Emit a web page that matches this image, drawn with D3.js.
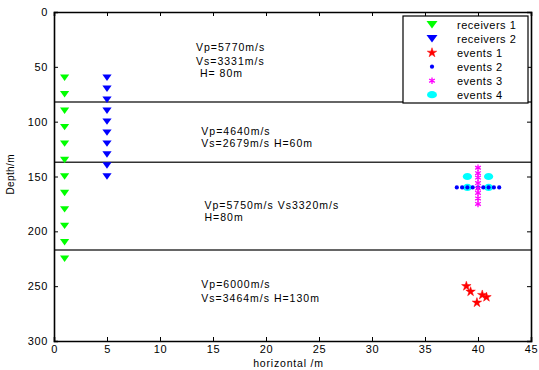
<!DOCTYPE html>
<html>
<head>
<meta charset="utf-8">
<script src="https://cdn.jsdelivr.net/npm/d3@7"></script>
<style>
  body { margin: 0; background: #fff; }
  text { font-family: "Liberation Sans", Arial, sans-serif; }
</style>
</head>
<body>
<svg id="chart" width="539" height="370"></svg>
<script>
// receivers: x position and depths
const rec1X = 1;
const rec1Depth = [60, 75, 90, 105, 120, 135, 150, 165, 180, 195, 210, 225];
const rec2X = 5;
const rec2Depth = [60, 70, 80, 90, 100, 110, 120, 130, 140, 150];

// events
const ev1 = [[38.9, 250], [39.3, 255], [40.4, 258], [40.8, 260], [39.9, 265]];
const ev2X = [38, 38.5, 39, 39.5, 40, 40.5, 41, 41.5, 42];
const ev2Depth = 160;
const ev3X = 40;
const ev3Depth = [142, 147, 151, 156, 161, 165, 170, 175];
const ev4 = [[39, 150], [41, 150], [39, 160], [41, 160]];

// layer boundaries (depth)
const boundaries = [82, 137, 217];

// layer annotations: [x, depth, text]
const notes = [
  [13.4, 36, 'Vp=5770m/s'],
  [13.4, 48, 'Vs=3331m/s'],
  [13.4, 59, ' H= 80m'],
  [13.9, 112, 'Vp=4640m/s'],
  [13.9, 123, 'Vs=2679m/s H=60m'],
  [14.2, 180, 'Vp=5750m/s Vs3320m/s'],
  [14.2, 191, 'H=80m'],
  [13.9, 252, 'Vp=6000m/s'],
  [13.9, 264, 'Vs=3464m/s H=130m']
];

const xTicks = [0, 5, 10, 15, 20, 25, 30, 35, 40, 45];
const yTicks = [0, 50, 100, 150, 200, 250, 300];
const legendLabels = ['receivers 1', 'receivers 2', 'events 1', 'events 2', 'events 3', 'events 4'];

const margin = { top: 12, right: 8, bottom: 29, left: 54 };
const W = 539, H = 370;
const width = W - margin.left - margin.right;
const height = H - margin.top - margin.bottom;

const svg = d3.select('#chart');
const g = svg.append('g').attr('transform', `translate(${margin.left},${margin.top})`);

const x = d3.scaleLinear().domain([0, 45]).range([0, width]);
const y = d3.scaleLinear().domain([0, 300]).range([0, height]);

// layer boundary lines
g.selectAll('.bound').data(boundaries).enter().append('line')
  .attr('x1', 0).attr('x2', width)
  .attr('y1', d => y(d)).attr('y2', d => y(d))
  .attr('stroke', '#333').attr('stroke-width', 1.5);

// annotations
g.selectAll('.note').data(notes).enter().append('text')
  .attr('x', d => x(d[0])).attr('y', d => y(d[1]))
  .attr('font-size', '10.5px').attr('fill', '#000')
  .attr('letter-spacing', '1px')
  .style('white-space', 'pre')
  .text(d => d[2]);

// marker shapes
const triDown = 'M-4.6,-3.2L4.6,-3.2L0,3.2Z';
const triDownBig = 'M-5.5,-3.8L5.5,-3.8L0,3.8Z';
const star = d3.symbol(d3.symbolStar, 28)();
const asterisk = d3.symbol(d3.symbolAsterisk, 30)();

function drawMarker(sel, type, inLegend) {
  const tri = inLegend ? triDownBig : triDown;
  if (type === 'r1') sel.append('path').attr('d', tri).attr('fill', '#00ff00');
  if (type === 'r2') sel.append('path').attr('d', tri).attr('fill', '#0000ff');
  if (type === 'e1') sel.append('path').attr('d', star).attr('fill', '#ff0000').attr('stroke', '#ff0000').attr('stroke-width', 0.5);
  if (type === 'e2') sel.append('circle').attr('r', 2.1).attr('fill', '#0000ff');
  if (type === 'e3') sel.append('path').attr('d', asterisk).attr('fill', 'none').attr('stroke', '#ff00ff').attr('stroke-width', 1.3);
  if (type === 'e4') sel.append('ellipse').attr('rx', inLegend ? 5 : 4.6).attr('ry', 3.6).attr('fill', '#00ffff');
}

function plot(points, type) {
  g.selectAll('.m-' + type).data(points).enter().append('g')
    .attr('class', 'm-' + type)
    .attr('transform', d => `translate(${x(d[0])},${y(d[1])})`)
    .each(function () { drawMarker(d3.select(this), type, false); });
}

plot(rec1Depth.map(d => [rec1X, d]), 'r1');
plot(rec2Depth.map(d => [rec2X, d]), 'r2');
plot(ev4, 'e4');
plot(ev2X.map(v => [v, ev2Depth]), 'e2');
plot(ev3Depth.map(d => [ev3X, d]), 'e3');
plot(ev1, 'e1');

// axes (MATLAB style: inward ticks, box)
const xAxis = g.append('g').attr('transform', `translate(0,${height})`)
  .call(d3.axisBottom(x).tickValues(xTicks).tickSize(-4).tickPadding(4));
const xTop = g.append('g')
  .call(d3.axisTop(x).tickValues(xTicks).tickSize(-4).tickFormat(''));
const yAxis = g.append('g')
  .call(d3.axisLeft(y).tickValues(yTicks).tickSize(-4).tickPadding(6));
const yRight = g.append('g').attr('transform', `translate(${width},0)`)
  .call(d3.axisRight(y).tickValues(yTicks).tickSize(-4).tickFormat(''));

[xAxis, xTop, yAxis, yRight].forEach(a => {
  a.select('.domain').attr('stroke', '#000').attr('stroke-width', 1.6);
  a.selectAll('.tick line').attr('stroke', '#000');
  a.selectAll('.tick text').attr('fill', '#000').style('font-size', '11px')
    .attr('letter-spacing', '0.6px')
    .style('font-family', '"Liberation Sans", Arial, sans-serif');
});

// axis labels
g.append('text')
  .attr('x', width / 2 - 4).attr('y', height + 26)
  .attr('text-anchor', 'middle').attr('font-size', '10.5px')
  .attr('letter-spacing', '0.8px')
  .text('horizontal /m');

g.append('text')
  .attr('transform', `translate(${-40},${y(148)}) rotate(-90)`)
  .attr('text-anchor', 'middle').attr('font-size', '10px')
  .attr('letter-spacing', '0.4px')
  .text('Depth/m');

// legend
const legend = g.append('g').attr('transform', `translate(${width - 128},4)`);
legend.append('rect')
  .attr('width', 125).attr('height', 87)
  .attr('fill', '#fff').attr('stroke', '#000').attr('stroke-width', 1.2);
const types = ['r1', 'r2', 'e1', 'e2', 'e3', 'e4'];
const item = legend.selectAll('.item').data(legendLabels).enter().append('g')
  .attr('transform', (d, i) => `translate(0,${8.7 + i * 14})`);
item.append('g').attr('transform', 'translate(29,0)')
  .each(function (d, i) { drawMarker(d3.select(this), types[i], true); });
item.append('text')
  .attr('x', 54).attr('dy', '0.35em')
  .attr('font-size', '11px')
  .attr('letter-spacing', '0.5px')
  .text(d => d);
</script>
</body>
</html>
